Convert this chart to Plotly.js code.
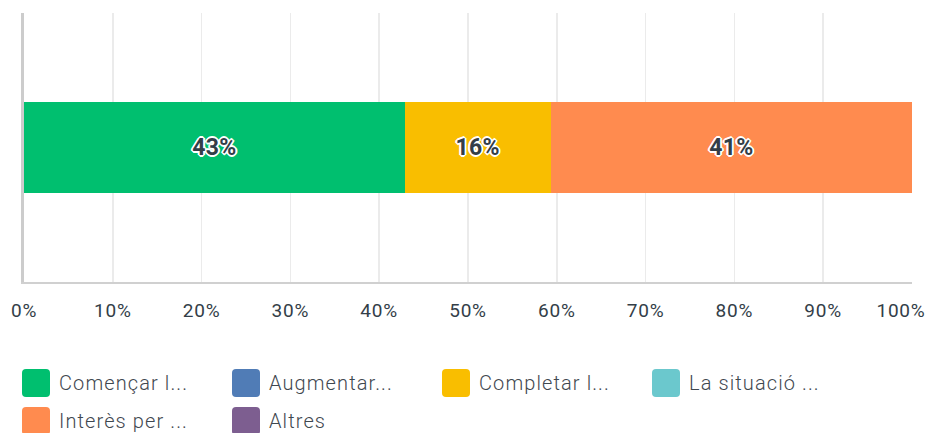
<!DOCTYPE html>
<html>
<head>
<meta charset="utf-8">
<script src="https://cdn.plot.ly/plotly-3.0.1.min.js"></script>
<style>
html,body{margin:0;padding:0;background:#fff;}
#chart{width:931px;height:433px;}
.annotation-text{letter-spacing:1.1px;}
#chart .xtick text{letter-spacing:0.8px;}
#chart .bartext{letter-spacing:0.3px;}
</style>
</head>
<body>
<div id="chart"></div>
<script>
const categories = ["Començar l...", "Augmentar...", "Completar l...", "La situació ...", "Interès per ...", "Altres"];
const values = [42.9, 0, 16.4, 0, 40.7, 0];
const colors = ["#00bf6f", "#507cb6", "#f9be00", "#6bc8cd", "#ff8b4f", "#7d5e90"];
const tickVals = [0, 10, 20, 30, 40, 50, 60, 70, 80, 90, 100];
const tickText = ["0%", "10%", "20%", "30%", "40%", "50%", "60%", "70%", "80%", "90%", "100%\u00A0\u00A0\u00A0\u00A0"];

const W = 931, H = 433;
const mL = 24, mR = 19, mT = 13, mB = 151;
const pw = W - mL - mR, ph = H - mT - mB;
const px2x = p => (p - mL) / pw;
const py2y = p => (H - mB - p) / ph;

const traces = categories.map((c, i) => ({
  type: 'bar',
  orientation: 'h',
  name: c,
  y: ['q'],
  x: [values[i]],
  width: 0.335,
  marker: {color: colors[i], line: {width: 0}},
  text: [values[i] > 0 ? Math.round(values[i]) + '%' : ''],
  textposition: 'inside',
  insidetextanchor: 'middle',
  textangle: 0,
  constraintext: 'none',
  textfont: {
    family: 'Roboto, sans-serif', size: 23, weight: 700, color: '#333e48',
    shadow: '2px 0 0 #fff, -2px 0 0 #fff, 0 2px 0 #fff, 0 -2px 0 #fff, 1px 1px 0 #fff, -1px -1px 0 #fff, 1px -1px 0 #fff, -1px 1px 0 #fff'
  },
  showlegend: false,
  hoverinfo: 'skip'
}));

const shapes = [];
const annotations = [];
const rr = 'M -10,-14 L 10,-14 Q 14,-14 14,-10 L 14,10 Q 14,14 10,14 L -10,14 Q -14,14 -14,10 L -14,-10 Q -14,-14 -10,-14 Z';
categories.forEach((c, i) => {
  const col = i % 4, row = Math.floor(i / 4);
  const cx = 36 + col * 210;
  const cy = 383 + row * 38;
  shapes.push({
    type: 'path', xref: 'paper', yref: 'paper',
    xsizemode: 'pixel', ysizemode: 'pixel',
    xanchor: px2x(cx), yanchor: py2y(cy),
    path: rr, fillcolor: colors[i], line: {width: 0}
  });
  annotations.push({
    xref: 'paper', yref: 'paper', x: px2x(cx + 21), y: py2y(cy),
    xanchor: 'left', yanchor: 'middle', showarrow: false,
    text: c, font: {family: 'Roboto, sans-serif', size: 20, weight: 300, color: '#3f4850'}
  });
});

const layout = {
  width: W, height: H,
  margin: {l: mL, r: mR, t: mT, b: mB, pad: 0},
  barmode: 'stack',
  paper_bgcolor: '#ffffff', plot_bgcolor: '#ffffff',
  showlegend: false,
  xaxis: {
    range: [0, 100], tickvals: tickVals, ticktext: tickText,
    showgrid: true, gridcolor: '#ebebeb', gridwidth: 1.5,
    zeroline: false, showline: true, linecolor: '#d0d0d0', linewidth: 2,
    ticks: '', ticklabelstandoff: 10, ticklabeloverflow: 'allow',
    tickfont: {family: 'Roboto, sans-serif', size: 19, weight: 400, color: '#333e48'},
    fixedrange: true
  },
  yaxis: {
    range: [-0.5, 0.5], showticklabels: false, showgrid: false, zeroline: false,
    showline: true, linecolor: '#cccccc', linewidth: 3, ticks: '', fixedrange: true
  },
  shapes: shapes,
  annotations: annotations
};

Plotly.newPlot('chart', traces, layout, {staticPlot: true, displayModeBar: false});
</script>
</body>
</html>
